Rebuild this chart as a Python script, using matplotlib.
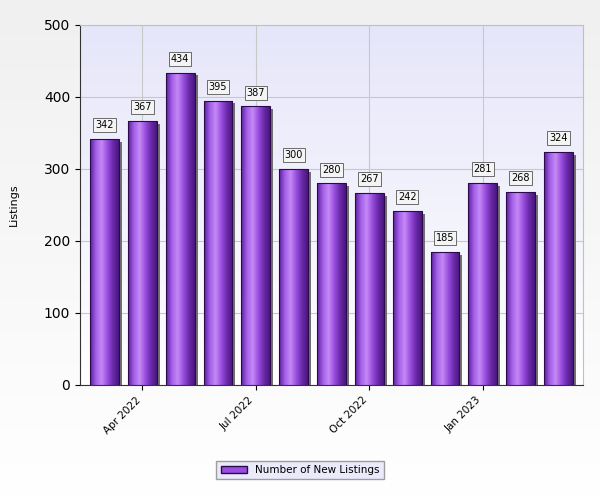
import matplotlib
matplotlib.use("Agg")
import matplotlib.pyplot as plt
import numpy as np
from matplotlib.colors import LinearSegmentedColormap

months = ["Mar 2022","Apr 2022","May 2022","Jun 2022","Jul 2022","Aug 2022","Sep 2022",
          "Oct 2022","Nov 2022","Dec 2022","Jan 2023","Feb 2023","Mar 2023"]
values = [342,367,434,395,387,300,280,267,242,185,281,268,324]
tick_labels = {"Apr 2022":1,"Jul 2022":4,"Oct 2022":7,"Jan 2023":10}

fig = plt.figure(figsize=(6,5), dpi=100)
bgax = fig.add_axes([0,0,1,1], zorder=-10)
bgax.imshow(np.linspace(1,0,100).reshape(-1,1), aspect="auto", extent=[0,1,0,1],
            cmap=LinearSegmentedColormap.from_list("bg",["#ffffff","#f0f0f0"]))
bgax.axis("off")

ax = fig.add_axes([80/600, 115/500, 503/600, 360/500])
x = np.arange(len(values))
ax.set_xlim(-0.65, len(values)-0.35)
ax.set_ylim(0,500)
ax.imshow(np.linspace(0,1,100).reshape(-1,1), aspect="auto", extent=[-0.65,len(values)-0.35,0,500],
          origin="lower", cmap=LinearSegmentedColormap.from_list("ax",["#ffffff","#e6e6fa"]), zorder=0)

barcmap = LinearSegmentedColormap.from_list("bar",["#5a1f9a","#a35ee8","#c58af5","#9a4ee0","#6a2aa8","#4a1580"])
grad = np.linspace(0,1,100).reshape(1,-1)
w = 0.76
for xi, v in zip(x, values):
    ax.bar(xi+0.08, v, w, bottom=-4, color="#707070", zorder=2, linewidth=0)
    b = ax.bar(xi, v, w, color="none", edgecolor="#2a0a4a", linewidth=0.8, zorder=4)[0]
    im = ax.imshow(grad, aspect="auto", extent=[xi-w/2, xi+w/2, 0, v], cmap=barcmap, zorder=3)
    im.set_clip_path(b)
    ax.text(xi, v+12, str(v), ha="center", va="bottom", fontsize=7, zorder=6,
            bbox=dict(boxstyle="square,pad=0.2", fc="#f4f4f4", ec="#555555", lw=0.6))

ax.set_xticks(list(tick_labels.values()))
ax.set_xticklabels(list(tick_labels.keys()), rotation=45, ha="right", fontsize=7.5)
ax.set_yticks(range(0,501,100))
ax.tick_params(axis="y", labelsize=10)
ax.grid(True, color="#c8c8c8", lw=0.8, zorder=1)
ax.set_axisbelow(True)
for s in ["top","right"]:
    ax.spines[s].set_color("#c0c0c0")
ax.spines["left"].set_color("#333333")
ax.spines["bottom"].set_color("#333333")
ax.set_ylabel("Listings", fontsize=8, labelpad=18)

from matplotlib.patches import Patch
leg = fig.legend(handles=[Patch(fc="#9a4ee0", ec="#2a0a4a")], labels=["Number of New Listings"],
                 loc="center", bbox_to_anchor=(300/600, 1-470/500), fontsize=7.5,
                 fancybox=False, edgecolor="#888888", handlelength=2.5)
leg.get_frame().set_facecolor("#e6e6fa")
fig.savefig("out.png", dpi=100)
